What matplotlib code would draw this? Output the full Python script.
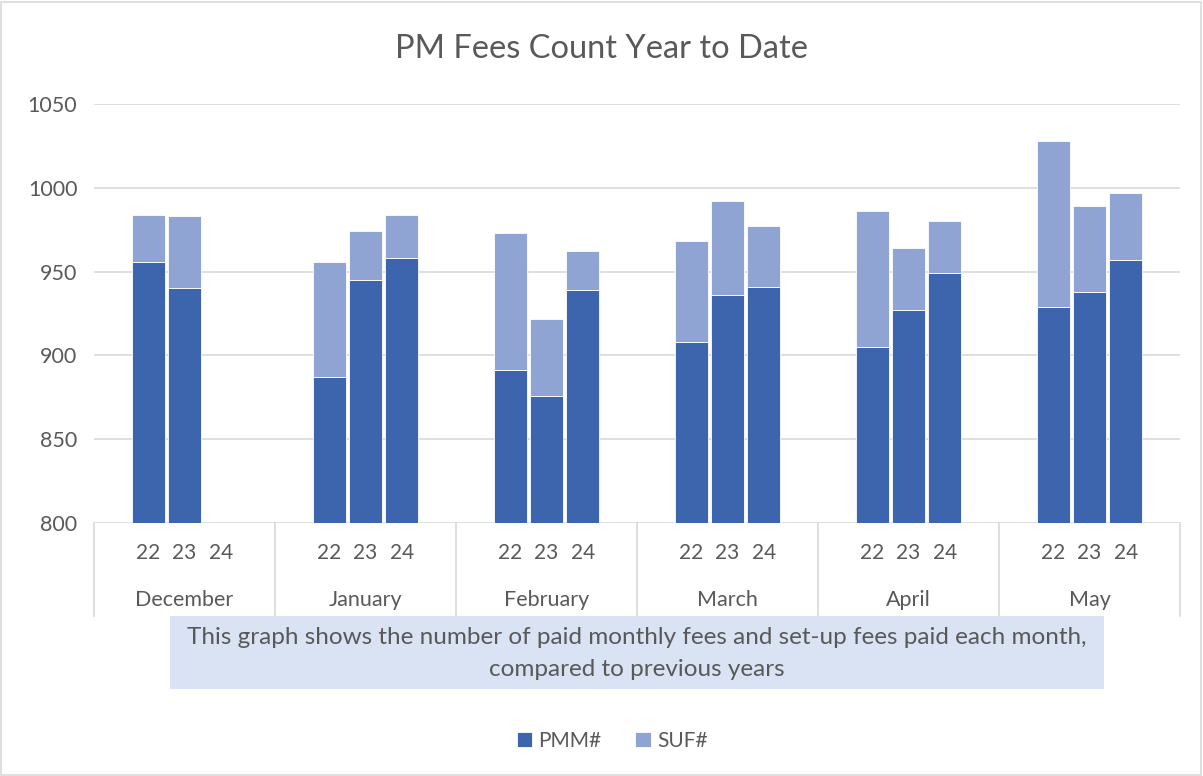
import numpy as np
import matplotlib.pyplot as plt
from matplotlib.patches import Rectangle

plt.rcParams['font.family'] = ['Lato', 'DejaVu Sans']

months = ["December", "January", "February", "March", "April", "May"]
years = ["22", "23", "24"]
# paid monthly fees (PMM#) per year, per month
pmm_22 = [956, 887, 891, 908, 905, 929]
pmm_23 = [940, 945, 876, 936, 927, 938]
pmm_24 = [np.nan, 958, 939, 941, 949, 957]
# set-up fees (SUF#) stacked on top
suf_22 = [28, 69, 82, 60, 81, 99]
suf_23 = [43, 29, 46, 56, 37, 51]
suf_24 = [np.nan, 26, 23, 36, 31, 40]

pmm = [pmm_22, pmm_23, pmm_24]
suf = [suf_22, suf_23, suf_24]

dark = '#3D65AD'
light = '#90A4D4'
txt = '#595959'
grid = '#D9D9D9'

W, H = 1203, 776
fig = plt.figure(figsize=(W / 100, H / 100), dpi=100)
ax = fig.add_axes([94 / W, 1 - 523 / H, (1180 - 94) / W, (523 - 104) / H])

offsets = [-0.2, 0.0, 0.2]
bw = 0.183
x = np.arange(len(months))
for k in range(len(years)):
    p = np.array(pmm[k], dtype=float)
    s = np.array(suf[k], dtype=float)
    ok = ~np.isnan(p)
    xs = x[ok] + offsets[k]
    ax.bar(xs, p[ok], bw, color=dark, edgecolor='white', linewidth=0.6, zorder=3,
           label='PMM#' if k == 0 else None)
    ax.bar(xs, s[ok], bw, bottom=p[ok], color=light, edgecolor='white', linewidth=0.6,
           zorder=3, label='SUF#' if k == 0 else None)

ax.set_xlim(-0.5, len(months) - 0.5)
ax.set_ylim(800, 1050)
ax.set_yticks(range(800, 1051, 50))
ax.set_xticks([])
ax.yaxis.grid(True, color=grid, linewidth=1.2, zorder=0)
for sp in ax.spines.values():
    sp.set_visible(False)
ax.tick_params(axis='y', length=0, pad=12, labelsize=15.5, labelcolor=txt)

# category axis: separators, year labels and month labels
tr = ax.get_xaxis_transform()
depth = -(616 - 523) / (523 - 104)
for b in np.arange(-0.5, len(months), 1.0):
    ax.plot([b, b], [0, depth], transform=tr, color=grid, linewidth=1.2, clip_on=False)
for i, m in enumerate(months):
    for k, yr in enumerate(years):
        ax.text(i + offsets[k], -(553 - 523) / 419, yr, transform=tr, ha='center',
                va='center', fontsize=15, color=txt)
    ax.text(i, -(600 - 523) / 419, m, transform=tr, ha='center', va='center',
            fontsize=15.5, color=txt)

fig.text(0.5, 1 - 49 / H, "PM Fees Count Year to Date", ha='center', va='center',
         fontsize=23.5, color=txt)

# note box below the axis
fig.patches.append(Rectangle((170 / W, 1 - 689 / H), (1104 - 170) / W, (689 - 616) / H,
                             transform=fig.transFigure, facecolor='#DAE3F3',
                             edgecolor='none', zorder=1))
fig.text(637 / W, 1 - 638 / H,
         "This graph shows the number of paid monthly fees and set-up fees paid each month,",
         ha='center', va='center', fontsize=17.5, color=txt, zorder=2)
fig.text(637 / W, 1 - 669 / H, "compared to previous years", ha='center', va='center',
         fontsize=17.5, color=txt, zorder=2)

fig.legend(loc='center', bbox_to_anchor=(612 / W, 1 - 741 / H), ncol=2, frameon=False,
           fontsize=15, labelcolor=txt, handlelength=0.75, handleheight=0.75,
           handletextpad=0.3, columnspacing=1.6)

# outer chart border
fig.patches.append(Rectangle((1 / W, 1 / H), (W - 3) / W, (H - 3) / H,
                             transform=fig.transFigure, facecolor='none',
                             edgecolor=grid, linewidth=1.2))

fig.savefig('out.png', dpi=100)
